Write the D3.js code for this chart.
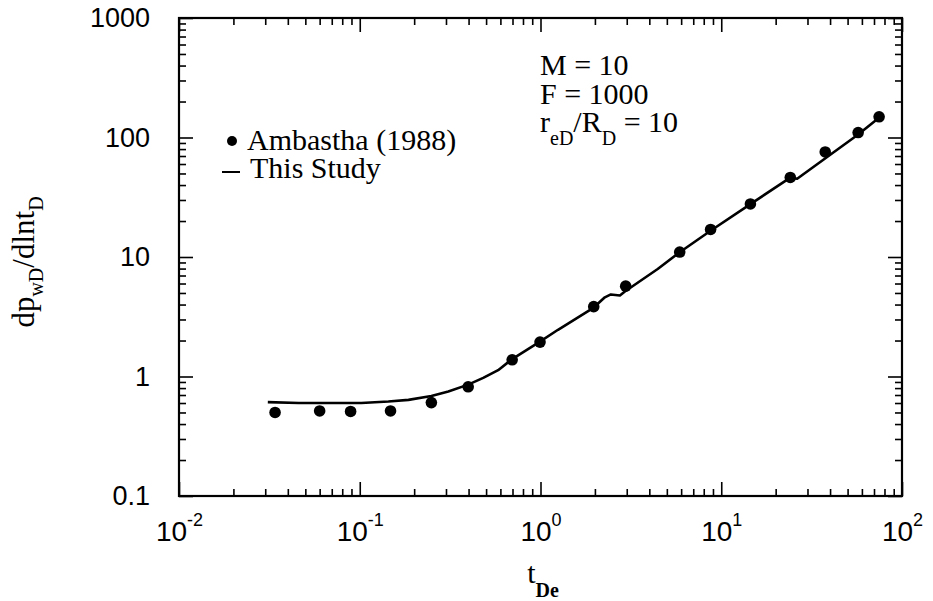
<!DOCTYPE html>
<html>
<head>
<meta charset="utf-8">
<script src="https://cdn.jsdelivr.net/npm/d3@7"></script>
<style>
  html, body { margin: 0; padding: 0; background: #fff; }
  svg { display: block; }
</style>
</head>
<body>
<svg id="chart" width="933" height="601"></svg>
<script>
// Dimensionless time t_De (x) and pressure derivative dp_wD/dlnt_D (y)

// Ambastha (1988) points
const ambT     = [0.034, 0.060, 0.089, 0.148, 0.249, 0.398, 0.697, 0.994, 1.97, 2.96, 5.89, 8.73, 14.5, 24.1, 37.6, 57.2, 74.7];
const ambDeriv = [0.50, 0.515, 0.51, 0.515, 0.605, 0.82, 1.38, 1.94, 3.84, 5.7, 11.0, 17.0, 27.8, 46.3, 75.7, 110, 149];

// This Study solution curve
const studyT     = [0.031, 0.046, 0.067, 0.102, 0.144, 0.186, 0.249, 0.309, 0.398, 0.482, 0.583, 0.697, 0.993, 1.25, 1.95, 2.27, 2.45, 2.75, 2.93, 4.45, 5.89, 8.73, 14.5, 24.1, 26.3, 37.2, 57.2, 74.6];
const studyDeriv = [0.61, 0.60, 0.60, 0.60, 0.617, 0.637, 0.686, 0.75, 0.855, 0.975, 1.13, 1.40, 1.96, 2.46, 3.73, 4.60, 4.86, 4.76, 5.14, 7.94, 10.97, 16.6, 27.7, 46.2, 45.2, 66.1, 106, 146.6];

// Tick values and labels
const xMajor = [1e-2, 1e-1, 1, 10, 100];
const xTickExp = ["-2", "-1", "0", "1", "2"];
const yMajor = [0.1, 1, 10, 100, 1000];
const yTickLabels = ["0.1", "1", "10", "100", "1000"];

// Legend entries
const legendLabels = ["Ambastha (1988)", "This Study"];

const svg = d3.select("#chart");
const plotLeft = 179, plotRight = 902, plotTop = 18, plotBottom = 496;

const x = d3.scaleLog().domain([1e-2, 1e2]).range([plotLeft, plotRight]);
const y = d3.scaleLog().domain([0.1, 1000]).range([plotBottom, plotTop]);

function minorTicks(majors) {
  const out = [];
  for (let i = 0; i < majors.length - 1; i++) {
    for (let k = 2; k <= 9; k++) out.push(majors[i] * k);
  }
  return out;
}
const xMinor = minorTicks(xMajor);
const yMinor = minorTicks(yMajor);

const sans = "'Liberation Sans', Arial, Helvetica, sans-serif";
const serif = "'Liberation Serif', 'Times New Roman', Times, serif";

function styleAxis(g) {
  g.select(".domain").remove();
  g.selectAll(".tick line").attr("stroke", "#000").attr("stroke-width", 1.6);
}

// Bottom axis: major ticks with labels, minor ticks
const gBottom = svg.append("g")
  .attr("transform", `translate(0,${plotBottom})`)
  .call(d3.axisBottom(x).tickValues(xMajor).tickSize(-14).tickSizeOuter(0).tickPadding(25).tickFormat(() => ""))
  .call(styleAxis);
gBottom.selectAll(".tick text")
  .attr("font-family", sans).attr("font-size", 28).attr("fill", "#000")
  .each(function(d, i) {
    const t = d3.select(this);
    t.append("tspan").text("10");
    t.append("tspan").attr("dy", "-15").attr("font-size", 18).text(xTickExp[i]);
  });
svg.append("g")
  .attr("transform", `translate(0,${plotBottom})`)
  .call(d3.axisBottom(x).tickValues(xMinor).tickSize(-7).tickSizeOuter(0).tickFormat(() => ""))
  .call(styleAxis);

// Top axis ticks
svg.append("g")
  .attr("transform", `translate(0,${plotTop})`)
  .call(d3.axisTop(x).tickValues(xMajor).tickSize(-14).tickSizeOuter(0).tickFormat(() => ""))
  .call(styleAxis);
svg.append("g")
  .attr("transform", `translate(0,${plotTop})`)
  .call(d3.axisTop(x).tickValues(xMinor).tickSize(-7).tickSizeOuter(0).tickFormat(() => ""))
  .call(styleAxis);

// Left axis: major ticks with labels, minor ticks
svg.append("g")
  .attr("transform", `translate(${plotLeft},0)`)
  .call(d3.axisLeft(y).tickValues(yMajor).tickSize(-14).tickSizeOuter(0).tickPadding(29)
    .tickFormat((d, i) => yTickLabels[i]))
  .call(styleAxis)
  .selectAll(".tick text")
  .attr("font-family", sans).attr("font-size", 27).attr("fill", "#000");
svg.append("g")
  .attr("transform", `translate(${plotLeft},0)`)
  .call(d3.axisLeft(y).tickValues(yMinor).tickSize(-7).tickSizeOuter(0).tickFormat(() => ""))
  .call(styleAxis);

// Right axis ticks
svg.append("g")
  .attr("transform", `translate(${plotRight},0)`)
  .call(d3.axisRight(y).tickValues(yMajor).tickSize(-14).tickSizeOuter(0).tickFormat(() => ""))
  .call(styleAxis);
svg.append("g")
  .attr("transform", `translate(${plotRight},0)`)
  .call(d3.axisRight(y).tickValues(yMinor).tickSize(-7).tickSizeOuter(0).tickFormat(() => ""))
  .call(styleAxis);

// Plot frame
svg.append("rect")
  .attr("x", plotLeft).attr("y", plotTop)
  .attr("width", plotRight - plotLeft).attr("height", plotBottom - plotTop)
  .attr("fill", "none").attr("stroke", "#000").attr("stroke-width", 2.2);

// Solution curve
const line = d3.line()
  .x(d => x(d[0]))
  .y(d => y(d[1]));
svg.append("path")
  .datum(studyT.map((t, i) => [t, studyDeriv[i]]))
  .attr("d", line)
  .attr("fill", "none").attr("stroke", "#000").attr("stroke-width", 2.6)
  .attr("stroke-linejoin", "round");

// Data points
svg.append("g")
  .selectAll("circle")
  .data(ambT.map((t, i) => [t, ambDeriv[i]]))
  .join("circle")
  .attr("cx", d => x(d[0]))
  .attr("cy", d => y(d[1]))
  .attr("r", 5.8)
  .attr("fill", "#000");

// Legend: symbols plus one two-line text block
const legend = svg.append("g").attr("font-family", serif).attr("font-size", 30).attr("fill", "#000");
legend.append("circle").attr("cx", 232).attr("cy", 141).attr("r", 5).attr("fill", "#000");
legend.append("line").attr("x1", 222).attr("x2", 240).attr("y1", 172).attr("y2", 172)
  .attr("stroke", "#000").attr("stroke-width", 2);
const legText = legend.append("text").attr("y", 150);
legText.append("tspan").attr("x", 247).text(legendLabels[0]);
legText.append("tspan").attr("x", 250).attr("dy", 28).text(legendLabels[1]);

// Parameter notes as one three-line text block
const notes = svg.append("text")
  .attr("font-family", serif).attr("font-size", 30).attr("fill", "#000")
  .attr("y", 75);
notes.append("tspan").attr("x", 540).text("M = 10");
notes.append("tspan").attr("x", 540).attr("dy", 29).text("F = 1000");
notes.append("tspan").attr("x", 540).attr("dy", 28).text("r");
notes.append("tspan").attr("dy", 13).attr("font-size", 20).text("eD");
notes.append("tspan").attr("dy", -13).text("/R");
notes.append("tspan").attr("dy", 13).attr("font-size", 20).text("D");
notes.append("tspan").attr("dy", -13).text(" = 10");

// Axis titles
const xt = svg.append("text")
  .attr("x", 543).attr("y", 583)
  .attr("text-anchor", "middle")
  .attr("font-family", serif).attr("font-size", 30).attr("fill", "#000");
xt.append("tspan").text("t");
xt.append("tspan").attr("dy", 14).attr("font-size", 20).attr("font-weight", "bold").text("De");

const yt = svg.append("text")
  .attr("transform", "translate(34,262) rotate(-90)")
  .attr("text-anchor", "middle")
  .attr("font-family", serif).attr("font-size", 31).attr("fill", "#000");
yt.append("tspan").text("dp");
yt.append("tspan").attr("dy", 9).attr("font-size", 20).text("wD");
yt.append("tspan").attr("dy", -9).text("/dlnt");
yt.append("tspan").attr("dy", 9).attr("font-size", 20).text("D");
</script>
</body>
</html>
